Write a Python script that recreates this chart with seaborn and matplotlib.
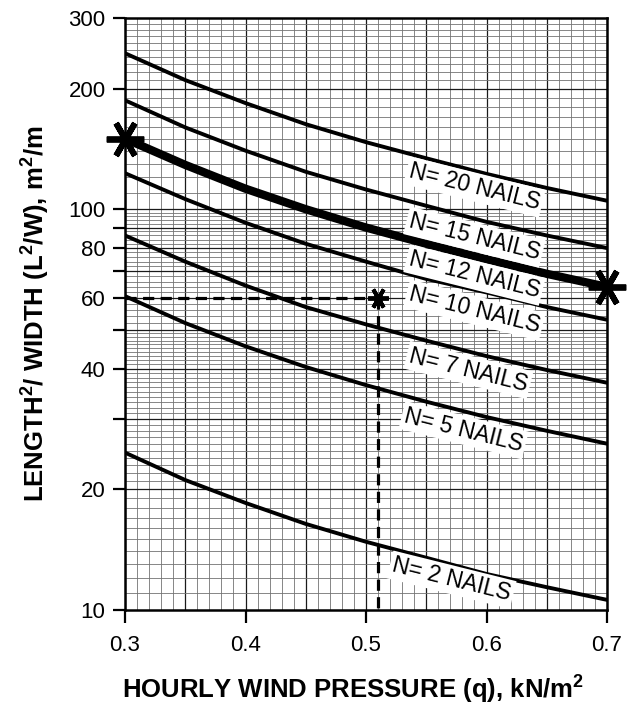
import numpy as np
import pandas as pd
import matplotlib
matplotlib.use("Agg")
import matplotlib.pyplot as plt
import seaborn as sns
from matplotlib.ticker import FixedLocator, FixedFormatter, NullFormatter, NullLocator

# ---------------- data ----------------
q = [0.30, 0.35, 0.40, 0.45, 0.50, 0.55, 0.60, 0.65, 0.70]
n20 = [245, 210, 184, 163, 147, 134, 122.5, 113, 105]
n15 = [187, 160, 140, 124, 112, 102, 93, 86, 80]
n12 = [150, 129, 112.5, 100, 90, 82, 75, 69, 64]
n10 = [123, 106, 92.5, 82, 74, 67, 62, 57, 53]
n7 = [86, 74, 64.5, 57, 51.6, 47, 43, 39.7, 36.9]
n5 = [60.7, 52, 45.5, 40.4, 36.4, 33.1, 30.3, 28, 26]
n2 = [24.7, 21.1, 18.5, 16.4, 14.8, 13.5, 12.3, 11.4, 10.6]

curve_labels = ["N= 20 NAILS", "N= 15 NAILS", "N= 12 NAILS", "N= 10 NAILS",
                "N= 7 NAILS", "N= 5 NAILS", "N= 2 NAILS"]
series = [n20, n15, n12, n10, n7, n5, n2]

example_q = 0.51
example_ratio = 60

x_ticks = [0.3, 0.4, 0.5, 0.6, 0.7]
x_ticklabels = ["0.3", "0.4", "0.5", "0.6", "0.7"]
y_ticks = [10, 20, 30, 40, 50, 60, 70, 80, 90, 100, 200, 300]
y_ticklabels = ["10", "20", "", "40", "", "60", "", "80", "", "100", "200", "300"]

# label anchor positions (data coords)
label_pos_x = [0.590, 0.590, 0.590, 0.590, 0.585, 0.581, 0.571]
label_pos_y = [113.6, 85.2, 68.5, 56.0, 39.7, 28.1, 11.9]

# ---------------- style ----------------
sns.set_style("white")
plt.rcParams["font.family"] = ["Liberation Sans", "DejaVu Sans"]
plt.rcParams["mathtext.default"] = "regular"
for key in ["text.color", "axes.labelcolor", "xtick.color", "ytick.color"]:
    plt.rcParams[key] = "black"

fig = plt.figure(figsize=(6.41, 7.05), dpi=100)
ax = fig.add_axes([125 / 641, 1 - 610 / 705, 482 / 641, 592 / 705])
ax.set_yscale("log")
ax.set_xlim(0.3, 0.7)
ax.set_ylim(10, 300)

# graph-paper grid
xgrid_minor = np.round(np.arange(0.30, 0.7001, 0.01), 3)
xgrid_major = np.round(np.arange(0.30, 0.7001, 0.05), 3)
ygrid_minor = np.concatenate([np.arange(10, 50, 1), np.arange(50, 100, 2),
                              np.arange(100, 300, 10)])
ygrid_major = [20, 30, 40, 50, 60, 70, 80, 90, 100, 200]
for xv in xgrid_minor:
    ax.axvline(xv, color="0.45", lw=0.6, zorder=0)
for xv in xgrid_major:
    ax.axvline(xv, color="0.1", lw=0.9, zorder=0)
for yv in ygrid_minor:
    ax.axhline(yv, color="0.45", lw=0.6, zorder=0)
for yv in ygrid_major:
    ax.axhline(yv, color="0.1", lw=0.9, zorder=0)

# curves
df = pd.DataFrame({"q": q * len(series),
                   "ratio": sum(series, []),
                   "N": np.repeat(curve_labels, len(q))})
for lab in curve_labels:
    sub = df[df["N"] == lab]
    lw = 6.0 if lab == "N= 12 NAILS" else 2.8
    sns.lineplot(data=sub, x="q", y="ratio", ax=ax, color="black", lw=lw,
                 zorder=4, legend=False, estimator=None)

# worked example dashed lines
sns.lineplot(x=[q[0], example_q], y=[example_ratio, example_ratio], ax=ax,
             color="black", lw=2.3, linestyle=(0, (3.5, 2)), zorder=4,
             estimator=None)
sns.lineplot(x=[example_q, example_q], y=[example_ratio, 10], ax=ax,
             color="black", lw=2.3, linestyle=(0, (3.5, 2)), zorder=4,
             sort=False, estimator=None)

# asterisks
ax.plot([q[0], q[-1]], [n12[0], n12[-1]], linestyle="none", marker=(6, 2, 30),
        ms=27, mew=4.2, color="black", clip_on=False, zorder=6)
ax.plot([example_q], [example_ratio], linestyle="none", marker=(6, 2, 30),
        ms=15, mew=2.8, color="black", clip_on=False, zorder=6)

# curve labels
for lab, lx, ly in zip(curve_labels, label_pos_x, label_pos_y):
    ax.text(lx, ly, lab, rotation=-14, rotation_mode="anchor", ha="center",
            va="center", fontsize=16.5, color="black", zorder=5,
            bbox=dict(boxstyle="square,pad=0.12", fc="white", ec="none"))

# ticks
ax.xaxis.set_major_locator(FixedLocator(x_ticks))
ax.xaxis.set_major_formatter(FixedFormatter(x_ticklabels))
ax.xaxis.set_minor_locator(NullLocator())
ax.yaxis.set_major_locator(FixedLocator(y_ticks))
ax.yaxis.set_major_formatter(FixedFormatter(y_ticklabels))
ax.yaxis.set_minor_locator(NullLocator())
ax.yaxis.set_minor_formatter(NullFormatter())
ax.tick_params(axis="both", which="major", direction="out", length=9,
               width=1.6, color="black", labelcolor="black", labelsize=16,
               pad=5, bottom=True, left=True)
ax.tick_params(axis="x", pad=9)

for sp in ax.spines.values():
    sp.set_visible(True)
    sp.set_color("black")
    sp.set_linewidth(1.8)

ax.set_xlabel("HOURLY WIND PRESSURE (q), kN/m$^2$", fontsize=18.5,
              fontweight="bold", va="center", color="black")
ax.xaxis.set_label_coords(0.473, -0.135)
ax.set_ylabel("LENGTH$^2$/ WIDTH (L$^2$/W), m$^2$/m", fontsize=18.5,
              fontweight="bold", va="center", color="black")
ax.yaxis.set_label_coords(-0.185, 0.5)

fig.savefig("out.png", dpi=100)
